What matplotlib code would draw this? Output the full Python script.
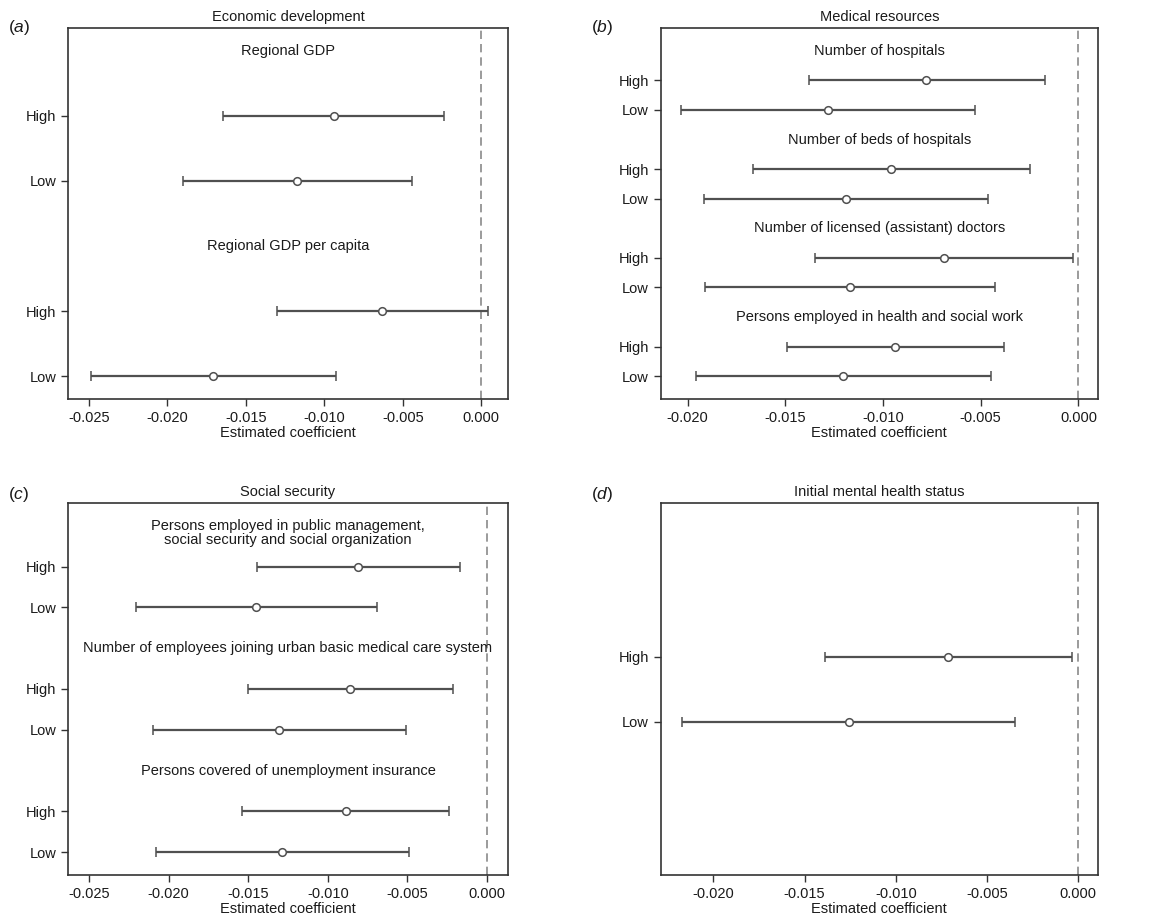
import matplotlib.pyplot as plt

plt.rcParams['font.family'] = ['Liberation Sans', 'DejaVu Sans']
plt.rcParams['mathtext.fontset'] = 'custom'
plt.rcParams['mathtext.it'] = 'Liberation Sans:italic'
plt.rcParams['mathtext.rm'] = 'Liberation Sans'

# (a) Economic development
a_heads = ['Regional GDP', 'Regional GDP per capita']
a_coef = [-0.00939, -0.01172, -0.00631, -0.0171]
a_lo = [-0.01646, -0.01903, -0.01304, -0.02489]
a_hi = [-0.00236, -0.0044, 0.0004, -0.00928]

# (b) Medical resources
b_heads = ['Number of hospitals', 'Number of beds of hospitals',
           'Number of licensed (assistant) doctors',
           'Persons employed in health and social work']
b_coef = [-0.00778, -0.0128, -0.0096, -0.0119, -0.00689, -0.01168, -0.00938, -0.01205]
b_lo = [-0.01381, -0.02032, -0.01668, -0.01915, -0.01347, -0.01911, -0.01492, -0.01959]
b_hi = [-0.00169, -0.00529, -0.00249, -0.00462, -0.00027, -0.00425, -0.00382, -0.0045]

# (c) Social security
c_heads = ['Persons employed in public management,\nsocial security and social organization',
           'Number of employees joining urban basic medical care system',
           'Persons covered of unemployment insurance']
c_coef = [-0.0081, -0.01448, -0.00858, -0.01305, -0.00887, -0.01285]
c_lo = [-0.01446, -0.02205, -0.01504, -0.02098, -0.01536, -0.02077]
c_hi = [-0.00172, -0.0069, -0.00211, -0.0051, -0.00238, -0.0049]

# (d) Initial mental health status
d_coef = [-0.00714, -0.01259]
d_lo = [-0.01389, -0.02173]
d_hi = [-0.00033, -0.00347]

groups = ['High', 'Low']

line_col = '#505050'
txt_col = '#1a1a1a'
fs = 10.5


def draw(ax, heads, coef, lo, hi, xlim, xticks, title, ylim=None):
    ypos, labels = [], []
    slot = 0
    nhead = max(len(heads), 1)
    per = len(coef) // nhead
    for h in range(nhead):
        if heads:
            # two-line headings sit a little lower in the original
            off = 0.18 if '\n' in heads[h] else 0.0
            ax.text(0.5, slot + off, heads[h], transform=ax.get_yaxis_transform(),
                    ha='center', va='center', fontsize=fs, linespacing=0.95,
                    color=txt_col)
            slot += 1
        for j in range(per):
            ypos.append(slot)
            labels.append(groups[j])
            slot += 1
    xerr = [[c - l for c, l in zip(coef, lo)], [h - c for c, h in zip(coef, hi)]]
    ax.errorbar(coef, ypos, xerr=xerr, fmt='o', color=line_col, ecolor=line_col,
                elinewidth=1.6, capsize=3.6, capthick=1.6, markersize=5.5,
                markerfacecolor='white', markeredgecolor=line_col,
                markeredgewidth=1.1, zorder=3)
    ax.axvline(0, color='#8a8a8a', linestyle=(0, (5, 3)), linewidth=1.2, zorder=1)
    ax.set_yticks(ypos)
    ax.set_yticklabels(labels, fontsize=fs, color=txt_col)
    if ylim is None:
        pad = 0.07 * (slot - 1)
        ax.set_ylim(slot - 1 + pad, -pad)
    else:
        ax.set_ylim(*ylim)
    ax.set_xlim(*xlim)
    ax.set_xticks(xticks)
    ax.set_xticklabels(['%.3f' % t for t in xticks], fontsize=fs, color=txt_col)
    ax.set_xlabel('Estimated coefficient', fontsize=fs, labelpad=1, color=txt_col)
    ax.set_title(title, fontsize=fs, pad=5, color=txt_col)
    ax.tick_params(direction='out', length=5, width=1, color='#333333')
    for s in ax.spines.values():
        s.set_linewidth(1.2)
        s.set_color('#333333')


fig = plt.figure(figsize=(11.62, 9.21), dpi=100)
ax_a = fig.add_axes([0.0585, 0.5668, 0.3787, 0.4028])
ax_b = fig.add_axes([0.5686, 0.5668, 0.3763, 0.4028])
ax_c = fig.add_axes([0.0585, 0.0500, 0.3787, 0.4039])
ax_d = fig.add_axes([0.5686, 0.0500, 0.3763, 0.4039])

t5 = [-0.025, -0.020, -0.015, -0.010, -0.005, 0.0]
t4 = [-0.020, -0.015, -0.010, -0.005, 0.0]

draw(ax_a, a_heads, a_coef, a_lo, a_hi, (-0.02634, 0.0017), t5,
     'Economic development')
draw(ax_b, b_heads, b_coef, b_lo, b_hi, (-0.02138, 0.001), t4,
     'Medical resources')
draw(ax_c, c_heads, c_coef, c_lo, c_hi, (-0.02632, 0.00132), t5,
     'Social security')
draw(ax_d, [], d_coef, d_lo, d_hi, (-0.02288, 0.00108), t4,
     'Initial mental health status', ylim=(3.36, -2.37))

for tag, x, y in [('a', 0.007, 0.970), ('b', 0.509, 0.970),
                  ('c', 0.007, 0.463), ('d', 0.509, 0.463)]:
    fig.text(x, y, '(' + r'$\mathit{' + tag + '}$' + ')', fontsize=12.5,
             ha='left', va='center', color=txt_col)

fig.savefig('out.png', dpi=100)
